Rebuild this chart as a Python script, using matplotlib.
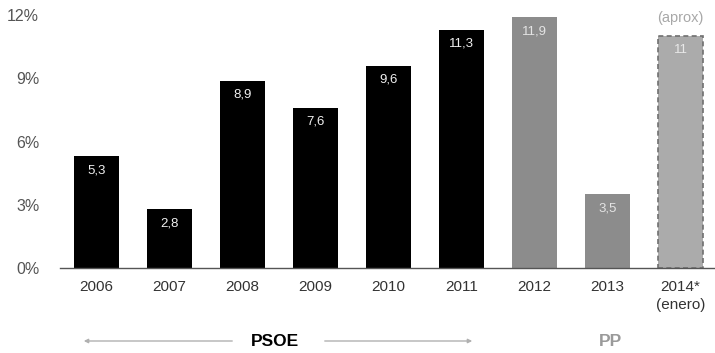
import numpy as np
import matplotlib.pyplot as plt

plt.rcParams['font.family'] = ['Liberation Sans', 'DejaVu Sans']

# Yearly values (%)
years = ['2006', '2007', '2008', '2009', '2010', '2011', '2012', '2013', '2014*\n(enero)']
values = [5.3, 2.8, 8.9, 7.6, 9.6, 11.3, 11.9, 3.5, 11]
labels = ['5,3', '2,8', '8,9', '7,6', '9,6', '11,3', '11,9', '3,5', '11']
yticks = [0, 3, 6, 9, 12]

fill_colors = ['black'] * 6 + ['#8c8c8c', '#8c8c8c', '#ababab']
text_colors = ['#f0f0f0'] * 6 + ['#e4e4e4', '#e4e4e4', '#e8e8e8']

fig = plt.figure(figsize=(7.15, 3.53), dpi=100)
ax = fig.add_axes([0.084, 0.2408, 0.916, 0.731])

x = np.arange(len(values))
bars = ax.bar(x, values, width=0.62, color=fill_colors, zorder=2)

# last bar is an estimate: dashed outline
bars[-1].set_edgecolor('#707070')
bars[-1].set_linestyle((0, (3, 2)))
bars[-1].set_linewidth(1.2)

for xi, v, lab, c in zip(x, values, labels, text_colors):
    ax.annotate(lab, (xi, v), xytext=(0, -14), textcoords='offset pixels',
                ha='center', va='center', fontsize=9.5, color=c)

ax.annotate('(aprox)', (x[-1], values[-1]), xytext=(0, 18), textcoords='offset pixels',
            ha='center', va='center', fontsize=10.5, color='#a8a8a8')

ax.set_xlim(-0.5, 8.47)
ax.set_ylim(0, 12.25)
ax.set_yticks(yticks)
ax.set_yticklabels([f'{t}%' for t in yticks], fontsize=11.5, color='#555555')
ax.set_xticks(x)
ax.set_xticklabels(years, fontsize=11, color='#333333', linespacing=1.3, va='top')
ax.tick_params(axis='both', length=0)
ax.tick_params(axis='x', pad=9)
ax.tick_params(axis='y', pad=15)

for side in ['top', 'right', 'left']:
    ax.spines[side].set_visible(False)
ax.spines['bottom'].set_color('#555555')
ax.spines['bottom'].set_linewidth(1.0)

# party spans underneath the years
arrow = dict(arrowstyle='-|>', color='#b0b0b0', lw=1.0, mutation_scale=6)
y_party = 1 - 341 / 353
fig.text(275 / 715, y_party, 'PSOE', fontsize=12.5, fontweight='bold',
         color='black', ha='center', va='center')
fig.text(610 / 715, y_party, 'PP', fontsize=12.5, fontweight='bold',
         color='#9a9a9a', ha='center', va='center')
ax.annotate('', xy=(81 / 715, y_party), xytext=(235 / 715, y_party),
            xycoords='figure fraction', arrowprops=arrow)
ax.annotate('', xy=(475 / 715, y_party), xytext=(322 / 715, y_party),
            xycoords='figure fraction', arrowprops=arrow)

fig.savefig('out.png', dpi=100)
